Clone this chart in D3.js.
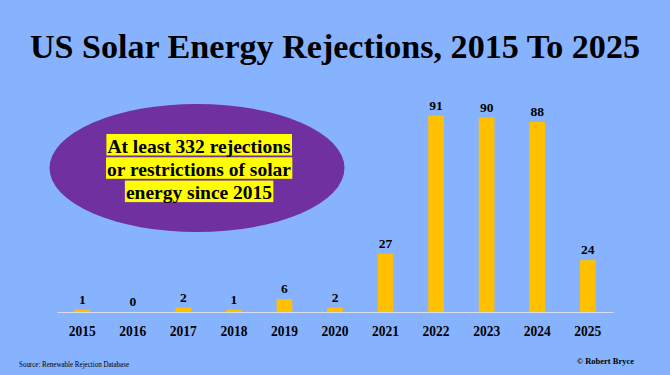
<!DOCTYPE html>
<head>
  <meta charset="utf-8">
  <script src="https://cdn.jsdelivr.net/npm/d3@7"></script>
  <style>
    body { margin: 0; background: #87b3fe; }
    svg { display: block; }
    text { font-family: "Liberation Serif", "Times New Roman", serif; fill: #000; }
  </style>
</head>
<body>
<svg></svg>
<script>
var years = ['2015', '2016', '2017', '2018', '2019', '2020', '2021', '2022', '2023', '2024', '2025']
var rejections = [1, 0, 2, 1, 6, 2, 27, 91, 90, 88, 24]
var calloutLines = ['At least 332 rejections', 'or restrictions of solar', 'energy since 2015']

var width = 670, height = 375
var svg = d3.select('svg').attr('width', width).attr('height', height)

svg.append('rect').attr('width', width).attr('height', height).attr('fill', '#87b3fe')

// title
svg.append('text')
  .attr('x', 335).attr('y', 57.5)
  .attr('text-anchor', 'middle')
  .attr('font-size', 33).attr('font-weight', 'bold')
  .attr('textLength', 610).attr('lengthAdjust', 'spacingAndGlyphs')
  .text('US Solar Energy Rejections, 2015 To 2025')

var x = d3.scaleBand().domain(years).range([57, 613]).paddingInner(0.69).paddingOuter(0.345)
var y = d3.scaleLinear().domain([0, 91]).range([312, 115.5])

// bars
svg.selectAll('.bar').data(years)
  .enter().append('rect')
  .attr('class', 'bar')
  .attr('x', function (d) { return x(d) })
  .attr('width', x.bandwidth())
  .attr('y', function (d, i) { return y(rejections[i]) })
  .attr('height', function (d, i) { return y(0) - y(rejections[i]) })
  .attr('fill', '#ffc000')

// baseline axis
var axis = svg.append('g').attr('transform', 'translate(0,' + y(0) + ')')
  .call(d3.axisBottom(x).tickSize(0).tickPadding(14))
axis.select('.domain').attr('stroke', '#d6dcea').attr('stroke-width', 1)
axis.selectAll('.tick text')
  .attr('font-size', 14)
  .attr('font-family', '"Liberation Serif", serif')
  .attr('font-weight', 'bold')
  .attr('fill', '#000')
  .attr('textLength', 27).attr('lengthAdjust', 'spacingAndGlyphs')
  .attr('dy', '0.71em')

// value labels
svg.selectAll('.val').data(years)
  .enter().append('text')
  .attr('class', 'val')
  .attr('x', function (d) { return x(d) + x.bandwidth() / 2 })
  .attr('y', function (d, i) { return y(rejections[i]) - 6 })
  .attr('text-anchor', 'middle')
  .attr('font-size', 13.5).attr('font-weight', 'bold')
  .text(function (d, i) { return rejections[i] })

// callout
svg.append('ellipse')
  .attr('cx', 197).attr('cy', 168)
  .attr('rx', 147.5).attr('ry', 64)
  .attr('fill', '#7030a0')

var callout = svg.append('g')
calloutLines.forEach(function (line, i) {
  var t = callout.append('text')
    .attr('x', 199).attr('y', 152.5 + i * 23.3)
    .attr('text-anchor', 'middle')
    .attr('font-size', 19.5).attr('font-weight', 'bold')
    .text(line)
  var b = t.node().getBBox()
  callout.insert('rect', 'text')
    .attr('x', b.x - 1).attr('y', 152.5 + i * 23.3 - 18.5)
    .attr('width', b.width + 2).attr('height', 21.5)
    .attr('fill', '#ffff00')
})

// footer
svg.append('text')
  .attr('x', 19).attr('y', 367)
  .attr('font-size', 8)
  .attr('textLength', 110).attr('lengthAdjust', 'spacingAndGlyphs')
  .text('Source: Renewable Rejection Database')

svg.append('text')
  .attr('x', 634).attr('y', 364)
  .attr('text-anchor', 'end')
  .attr('font-size', 8.5).attr('font-weight', 'bold')
  .text('\u00a9 Robert Bryce')
</script>
</body>
